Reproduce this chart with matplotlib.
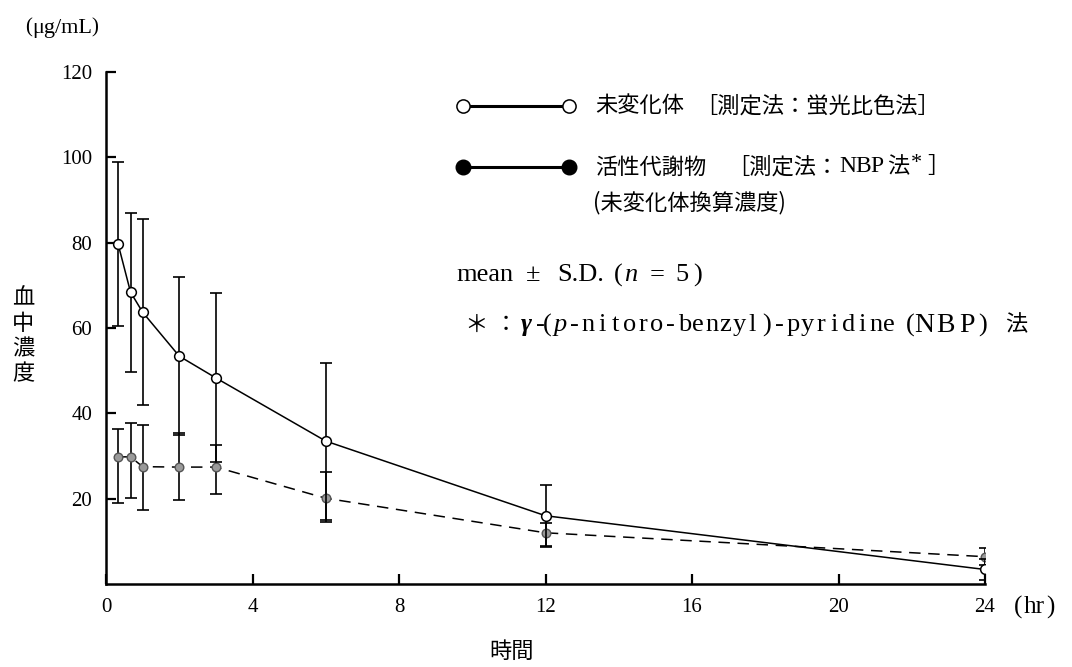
import matplotlib
matplotlib.use("Agg")
import matplotlib.pyplot as plt
from matplotlib.lines import Line2D

# ---------------- data ----------------
time_hr = [0.33, 0.67, 1, 2, 3, 6, 12, 24]
parent_mean = [79.7, 68.4, 63.7, 53.4, 48.3, 33.5, 16.0, 3.4]
parent_sd = [19.2, 18.6, 21.8, 18.5, 19.8, 18.4, 7.2, 2.5]
metab_mean = [29.8, 29.8, 27.5, 27.4, 27.4, 20.1, 12.0, 6.4]
metab_sd_low = [10.9, 9.6, 10.2, 7.8, 6.4, 5.5, 3.3, 2.0]
metab_sd_high = [6.6, 8.0, 9.8, 8.1, 5.2, 6.2, 2.4, 2.0]
x_ticks = [0, 4, 8, 12, 16, 20, 24]
y_ticks = [20, 40, 60, 80, 100, 120]

SERIF = "Liberation Serif"
CJK = "Noto Sans CJK JP"

W, H = 1072, 667
fig = plt.figure(figsize=(W / 100, H / 100), dpi=100)
fig.patch.set_facecolor("white")


def fx(x):
    return x / W


def fy(y):
    return 1 - y / H


ax = fig.add_axes([fx(106), fy(584), fx(985) - fx(106), fy(72) - fy(584)])

# metabolite (dashed, grey markers)
ax.errorbar(time_hr, metab_mean, yerr=[metab_sd_low, metab_sd_high],
            fmt="none", ecolor="black", elinewidth=1.2, capsize=4, capthick=1.2, zorder=2)
ax.plot(time_hr, metab_mean, color="black", lw=1.1, ls=(0, (7.5, 5)),
        marker="o", markersize=6.2, markerfacecolor="#9a9a9a",
        markeredgecolor="#555555", markeredgewidth=1.0, zorder=3)

# parent (solid, open markers)
ax.errorbar(time_hr, parent_mean, yerr=parent_sd,
            fmt="none", ecolor="black", elinewidth=1.2, capsize=4, capthick=1.2, zorder=4)
ax.plot(time_hr, parent_mean, color="black", lw=1.1, ls="-",
        marker="o", markersize=7, markerfacecolor="white",
        markeredgecolor="black", markeredgewidth=1.1, zorder=5)

ax.set_xlim(0, 24)
ax.set_ylim(0, 120)
ax.set_xticks(x_ticks)
ax.set_yticks(y_ticks)
ax.set_xticklabels([str(v) for v in x_ticks], fontfamily=SERIF, fontsize=15)
ax.set_yticklabels([str(v) for v in y_ticks], fontfamily=SERIF, fontsize=15)
ax.tick_params(axis="both", direction="in", length=7, width=1.6)
ax.tick_params(axis="x", pad=10)
ax.tick_params(axis="y", pad=10)
for s in ("top", "right"):
    ax.spines[s].set_visible(False)
for s in ("left", "bottom"):
    ax.spines[s].set_linewidth(1.8)


def put(x, y, s, family, size=16, style="normal", weight="normal", ha="left", **kw):
    fig.text(fx(x), fy(y), s, fontfamily=family, fontsize=size, fontstyle=style,
             fontweight=weight, va="center", ha=ha, **kw)


def spaced(x0, y, s, pitch, family=SERIF, size=19, style="normal"):
    for i, ch in enumerate(s):
        if ch != " ":
            put(x0 + (i + 0.5) * pitch, y, ch, family, size, style=style, ha="center")


# ---------------- axis labels ----------------
put(25, 28, "(", SERIF, 15)
put(32, 28, "μg/mL", SERIF, 16)
put(91, 28, ")", SERIF, 15)
put(23, 336, "血\n中\n濃\n度", CJK, 16, ha="center", linespacing=1.12)
put(512, 651, "時間", CJK, 16, ha="center")
put(1014, 607, "(", SERIF, 18)
put(1024, 607, "hr", SERIF, 18)
put(1046, 607, ")", SERIF, 18)

# ---------------- legend ----------------
fig.add_artist(Line2D([fx(463), fx(569)], [fy(106), fy(106)], transform=fig.transFigure,
                      color="black", lw=2.2, marker="o", markersize=9.5,
                      markerfacecolor="white", markeredgecolor="black", markeredgewidth=1.1))
fig.add_artist(Line2D([fx(463), fx(569)], [fy(167), fy(167)], transform=fig.transFigure,
                      color="black", lw=2.2, marker="o", markersize=10.5,
                      markerfacecolor="black", markeredgecolor="black"))

put(595, 106, "未変化体", CJK)
put(695, 106, "［測定法：蛍光比色法］", CJK)

put(595, 167, "活性代謝物", CJK)
put(727, 167, "［測定法：", CJK)
spaced(841, 167, "NBP", 14.5, size=17)
put(887, 167, "法", CJK)
put(911, 164, "*", SERIF, 16)
put(927, 167, "］", CJK)
put(593, 203, "(未変化体換算濃度)", CJK)

# mean ± S.D. (n = 5)
put(456, 275, "mean", SERIF, 19)
put(526, 275, "±", SERIF, 19)
put(557, 275, "S.D.", SERIF, 19)
put(614, 275, "(", SERIF, 19)
put(624, 275, "n", SERIF, 19, style="italic")
put(650, 275, "=", SERIF, 19)
put(675, 275, "5", SERIF, 19)
put(693, 275, ")", SERIF, 19)

# footnote
put(464, 325, "＊", CJK, 17)
put(495, 325, "：", CJK)
put(521, 325, "γ", SERIF, 19, style="italic", weight="bold")
spaced(537, 325, "-(", 6.8)
put(554, 325, "p", SERIF, 19, style="italic")
spaced(568, 325, "-nitoro-benzyl)-pyridine", 13.67)
put(906, 325, "(", SERIF, 19)
spaced(913, 325, "NBP", 21.5, size=20)
put(978, 325, ")", SERIF, 19)
put(1005, 325, "法", CJK)

fig.savefig("out.png", dpi=100, facecolor="white")
